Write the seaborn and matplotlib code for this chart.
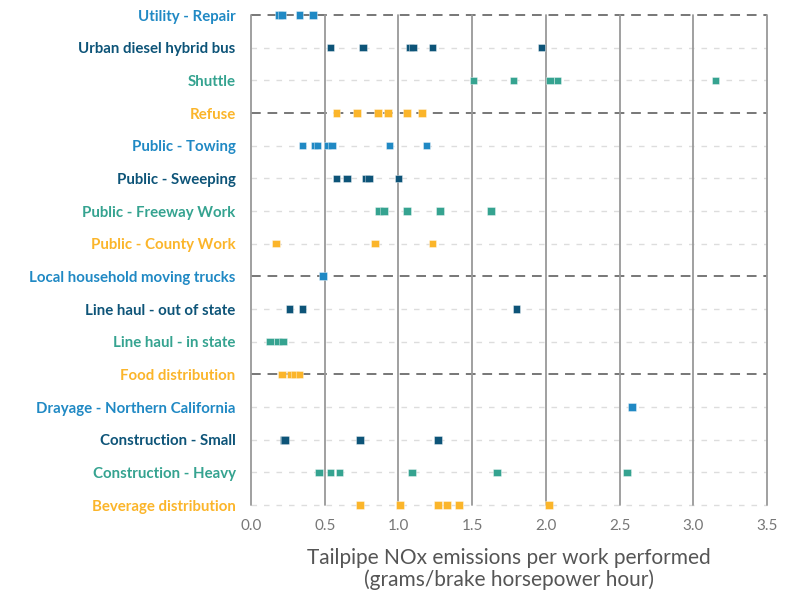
import matplotlib
matplotlib.use("Agg")
import matplotlib.pyplot as plt
import seaborn as sns
import pandas as pd

categories = [
    "Utility - Repair", "Urban diesel hybrid bus", "Shuttle", "Refuse",
    "Public - Towing", "Public - Sweeping", "Public - Freeway Work",
    "Public - County Work", "Local household moving trucks",
    "Line haul - out of state", "Line haul - in state", "Food distribution",
    "Drayage - Northern California", "Construction - Small",
    "Construction - Heavy", "Beverage distribution",
]

utility_repair = [0.19, 0.21, 0.33, 0.42]
urban_bus = [0.54, 0.76, 1.08, 1.10, 1.23, 1.97]
shuttle = [1.51, 1.78, 2.03, 2.08, 3.15]
refuse = [0.58, 0.72, 0.86, 0.93, 1.06, 1.16]
public_towing = [0.35, 0.43, 0.45, 0.52, 0.55, 0.94, 1.19]
public_sweeping = [0.58, 0.65, 0.78, 0.80, 1.00]
public_freeway = [0.87, 0.90, 1.06, 1.28, 1.63]
public_county = [0.17, 0.84, 1.23]
local_moving = [0.49]
linehaul_out = [0.26, 0.35, 1.80]
linehaul_in = [0.13, 0.185, 0.215]
food_dist = [0.21, 0.27, 0.30, 0.33]
drayage_norcal = [2.585]
construction_small = [0.225, 0.23, 0.74, 1.27]
construction_heavy = [0.46, 0.54, 0.60, 1.09, 1.67, 2.55]
beverage_dist = [0.74, 1.01, 1.27, 1.33, 1.41, 2.02]

series = [utility_repair, urban_bus, shuttle, refuse, public_towing,
          public_sweeping, public_freeway, public_county, local_moving,
          linehaul_out, linehaul_in, food_dist, drayage_norcal,
          construction_small, construction_heavy, beverage_dist]

color_cycle = ["#2089c4", "#0d5478", "#35a390", "#fbb52a"]
dark_rows = ["Utility - Repair", "Refuse", "Local household moving trucks",
             "Food distribution"]
x_ticks = [0.0, 0.5, 1.0, 1.5, 2.0, 2.5, 3.0, 3.5]

rows = []
for cat, vals in zip(categories, series):
    for v in vals:
        rows.append({"category": cat, "value": v})
df = pd.DataFrame(rows)
palette = {c: color_cycle[i % 4] for i, c in enumerate(categories)}

sns.set_theme(style="white")
plt.rcParams["font.family"] = ["Lato", "DejaVu Sans"]

fig = plt.figure(figsize=(8, 6), dpi=100)
ax = fig.add_axes([0.31375, 0.1583, 0.645, 0.8167])

# gridlines
for i, c in enumerate(categories):
    if c in dark_rows:
        ax.plot([0, 3.5], [i, i], color="#777777", lw=1.4,
                dashes=(5, 3.5), zorder=1, clip_on=False)
    else:
        ax.plot([0, 3.5], [i, i], color="#dddddd", lw=1.0,
                dashes=(4, 5), zorder=1, clip_on=False)
for t in x_ticks:
    ax.plot([t, t], [0, len(categories) - 1], color="#999999", lw=1.3,
            zorder=1, clip_on=False)

sns.stripplot(data=df, x="value", y="category", order=categories,
              hue="category", palette=palette, jitter=False, marker="s",
              size=5.5, linewidth=0.6, edgecolor=(1, 1, 1, 0.45),
              legend=False, ax=ax, zorder=3, clip_on=False)
for coll in ax.collections:
    coll.set_clip_on(False)

ax.set_xlim(0, 3.5)
ax.set_ylim(len(categories) - 1, 0)
ax.set_xticks(x_ticks)
ax.set_xticklabels([f"{t:.1f}" for t in x_ticks])
for s in ax.spines.values():
    s.set_visible(False)
ax.tick_params(axis="x", length=0, pad=10, labelsize=11, labelcolor="#777777")
ax.tick_params(axis="y", length=0, pad=11, labelsize=10.8)
for i, lbl in enumerate(ax.get_yticklabels()):
    lbl.set_color(color_cycle[i % 4])
    lbl.set_fontweight("bold")
ax.set_ylabel("")
ax.set_xlabel("Tailpipe NOx emissions per work performed\n(grams/brake horsepower hour)",
              fontsize=15, color="#555555", labelpad=11, linespacing=1.05)
ax.grid(False)

fig.savefig("out.png", dpi=100)
